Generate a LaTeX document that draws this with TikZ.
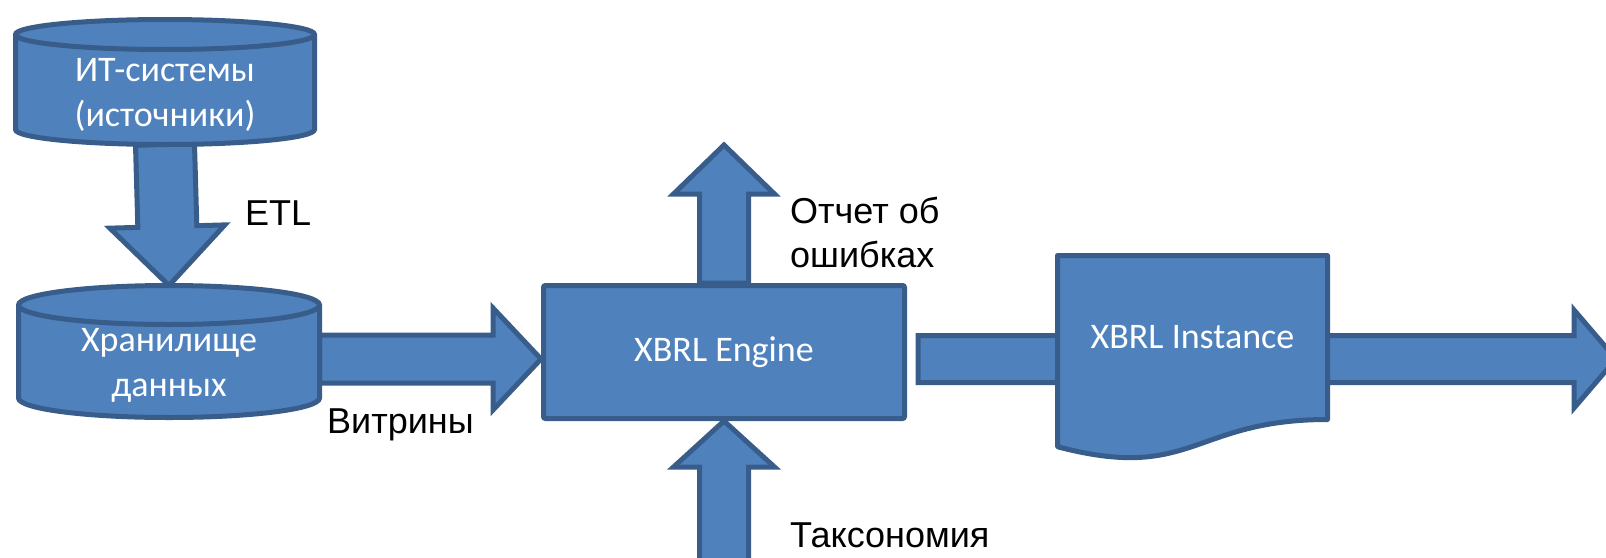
\documentclass[tikz,border=0pt]{standalone}
\usepackage{fontspec}
\setmainfont{Liberation Sans}
\newfontfamily\calibri{Carlito}
\usetikzlibrary{calc,positioning}

\definecolor{boxblue}{HTML}{4F81BD}
\definecolor{boxline}{HTML}{385D8A}

\pgfdeclarelayer{back}
\pgfdeclarelayer{mid}
\pgfsetlayers{back,mid,main}

% block arrow: from, to, half shaft, half head, head length
\newcommand{\fatarrow}[5]{%
  \coordinate (fa-base) at ($(#2)!#5!(#1)$);
  \draw[blockarrow] ($(#1)!#3!90:(#2)$) -- ($(fa-base)!#3!90:(#2)$)
    -- ($(fa-base)!#4!90:(#2)$) -- (#2) -- ($(fa-base)!#4!-90:(#2)$)
    -- ($(fa-base)!#3!-90:(#2)$) -- ($(#1)!#3!-90:(#2)$) -- cycle;}

% database can round a node: name, y radius of the ends
\newcommand{\dbcan}[2]{%
  \draw[canshape] let \p1=($(#1.east)-(#1.west)$) in
    ($(#1.north west)+(0,#2)$) -- ($(#1.south west)+(0,-#2)$)
    arc[start angle=180,end angle=360,x radius=0.5*\x1,y radius=#2pt]
    -- ($(#1.north east)+(0,#2)$)
    arc[start angle=0,end angle=180,x radius=0.5*\x1,y radius=#2pt] -- cycle
    ($(#1.north west)+(0,#2)$)
    arc[start angle=180,end angle=360,x radius=0.5*\x1,y radius=#2pt];}

\begin{document}
\begin{tikzpicture}[x=1pt,y=-1pt]
    \tikzstyle{blockarrow}=[draw=boxline,fill=boxblue,line width=5pt,line join=miter]
    \tikzstyle{canshape}=[draw=boxline,fill=boxblue,line width=5pt]
    \tikzstyle{dbase}=[rectangle,outer sep=0pt]
    \tikzstyle{cyltext}=[text=white,align=center,inner sep=0pt,
        font=\calibri\fontsize{36}{45}\selectfont]
    \tikzstyle{engbox}=[rectangle,rounded corners=2pt,draw=boxline,fill=boxblue,line width=5pt,
        text=white,font=\calibri\fontsize{36}{45}\selectfont,
        minimum width=361pt,minimum height=133pt]
    \tikzstyle{docbox}=[rectangle,text=white,font=\calibri\fontsize{36}{45}\selectfont,
        minimum width=270pt,minimum height=164pt,outer sep=0pt]
    \tikzstyle{docshape}=[draw=boxline,fill=boxblue,line width=5pt,line join=round]
    \tikzstyle{lbl}=[inner sep=0pt,font=\fontsize{36}{44}\selectfont]

    \useasboundingbox (0,0) rectangle (1606,557);

    %%% NODES
    \node[dbase,minimum width=299pt,minimum height=125pt,
        label={[cyltext,yshift=-13pt]center:ИТ-системы\\(источники)}] (its) at (165,82) {};
    \node[dbase,minimum width=301pt,minimum height=132pt,
        label={[cyltext,yshift=-14pt]center:Хранилище\\данных}] (dwh) at (169,351.5) {};
    \node[engbox] (eng) at (724,352) {XBRL Engine};
    \node[docbox] (inst) at (1192.5,337.5) {XBRL Instance};

    %%% ARROW ENDS
    \coordinate (vit-in) at ($(eng.west)+(0,7)$);
    \coordinate (vit-out) at (dwh.east |- vit-in);
    \coordinate[above=138pt of eng.north] (err-out);
    \coordinate[below=150pt of eng.south] (tax-in);
    \coordinate (thru-in) at ($(eng.east)+(11,7)$);
    \coordinate (thru-out) at ($(eng.east)+(709,7)$);

    %%% ARROWS
    \begin{pgfonlayer}{back}
        \fatarrow{its.south}{dwh.north}{29.5pt}{57.5pt}{59pt}
        \fatarrow{vit-out}{vit-in}{24pt}{51pt}{48pt}
        \fatarrow{eng.north}{err-out}{24.5pt}{50.5pt}{49pt}
        \fatarrow{tax-in}{eng.south}{24.5pt}{50.5pt}{46pt}
        \fatarrow{thru-in}{thru-out}{23.5pt}{49pt}{42pt}
    \end{pgfonlayer}

    % cans and document outline
    \begin{pgfonlayer}{mid}
        \dbcan{its}{15}
        \dbcan{dwh}{19.5}
        \draw[docshape] (inst.north west) -- (inst.north east) -- (inst.south east)
            .. controls (inst.south) and ($(inst.north)!1.383!(inst.south)$)
            .. ($(inst.north west)!1.166!(inst.south west)$) -- cycle;
    \end{pgfonlayer}

    % labels
    \node[lbl,anchor=west] (etl) at (245,213) {ETL};
    \node[lbl,anchor=west] (vit) at (327,425) {Витрины};
    \node[lbl,anchor=west,align=left] (errl) at (790,232) {Отчет об\\ошибках};
    \node[lbl,anchor=west] (taxl) at (790,535) {Таксономия};
\end{tikzpicture}
\end{document}
